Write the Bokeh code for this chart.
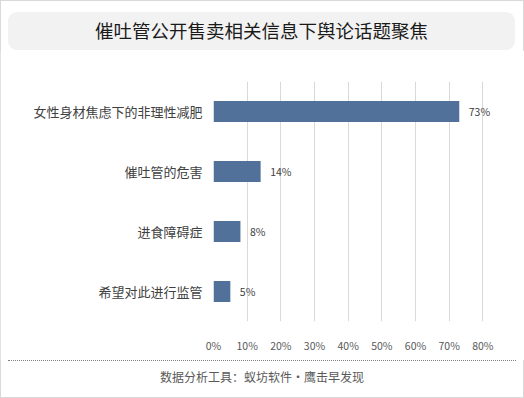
from bokeh.plotting import figure
from bokeh.models import FactorRange, Range1d, ColumnDataSource, FixedTicker, CustomJSTickFormatter, Div
from bokeh.layouts import column
from bokeh.core.properties import value
from bokeh.embed import file_html
from bokeh.resources import INLINE

categories = ["女性身材焦虑下的非理性减肥", "催吐管的危害", "进食障碍症", "希望对此进行监管"]
percents = [73, 14, 8, 5]
labels = ["73%", "14%", "8%", "5%"]
tick_values = [0, 10, 20, 30, 40, 50, 60, 70, 80]
title_text = "催吐管公开售卖相关信息下舆论话题聚焦"
footer_text = "数据分析工具：蚁坊软件・鹰击早发现"

FONT = "Noto Sans CJK SC"
W = 524

title_div = Div(text=title_text, width=507, height=38, margin=(12, 9, 0, 8),
                styles={"background-color": "#f2f2f2", "border-radius": "9px", "text-align": "center",
                        "line-height": "37px", "font-size": "18.5px", "font-family": FONT,
                        "color": "#1a1a1a"})

p = figure(width=W, height=310, output_backend="svg", toolbar_location=None,
           y_range=FactorRange(factors=list(reversed(categories))),
           x_range=Range1d(0, 90),
           min_border_left=213, min_border_right=8, min_border_top=31, min_border_bottom=39)
p.outline_line_color = None
p.background_fill_color = "white"
p.border_fill_color = "white"

src = ColumnDataSource(dict(cat=categories, val=percents, lab=labels))
p.hbar(y="cat", right="val", left=0, height=0.35, source=src, color="#51709a", line_color=None)
p.text(x="val", y="cat", text="lab", source=src, x_offset=9.5, text_baseline="middle", text_align="left",
       text_font=value(FONT), text_font_size="10.5px", text_color="#404040")

p.ygrid.grid_line_color = None
p.xgrid.grid_line_color = "#d9d9d9"
p.xgrid.ticker = FixedTicker(ticks=tick_values)

p.xaxis.ticker = FixedTicker(ticks=tick_values)
p.xaxis.formatter = CustomJSTickFormatter(code="return tick + '%'")
p.xaxis.axis_line_color = None
p.xaxis.major_tick_line_color = None
p.xaxis.minor_tick_line_color = None
p.xaxis.major_label_standoff = 10
p.xaxis.major_label_text_font = FONT
p.xaxis.major_label_text_font_size = "10.5px"
p.xaxis.major_label_text_color = "#595959"

p.yaxis.axis_line_color = None
p.yaxis.major_tick_line_color = None
p.yaxis.minor_tick_line_color = None
p.yaxis.major_label_standoff = 5
p.yaxis.major_label_text_font = FONT
p.yaxis.major_label_text_font_size = "13px"
p.yaxis.major_label_text_color = "#404040"

footer_div = Div(text=footer_text, width=508, height=38, margin=(0, 8, 0, 8),
                 styles={"border-top": "1px dotted #808080", "text-align": "center",
                         "line-height": "32px", "font-size": "12px", "font-family": FONT,
                         "color": "#595959", "box-sizing": "border-box"})

layout = column(title_div, p, footer_div, spacing=0,
                styles={"outline": "1px solid #d9d9d9", "outline-offset": "-1px", "background-color": "white"})

open("out.html", "w").write(file_html(layout, INLINE))
